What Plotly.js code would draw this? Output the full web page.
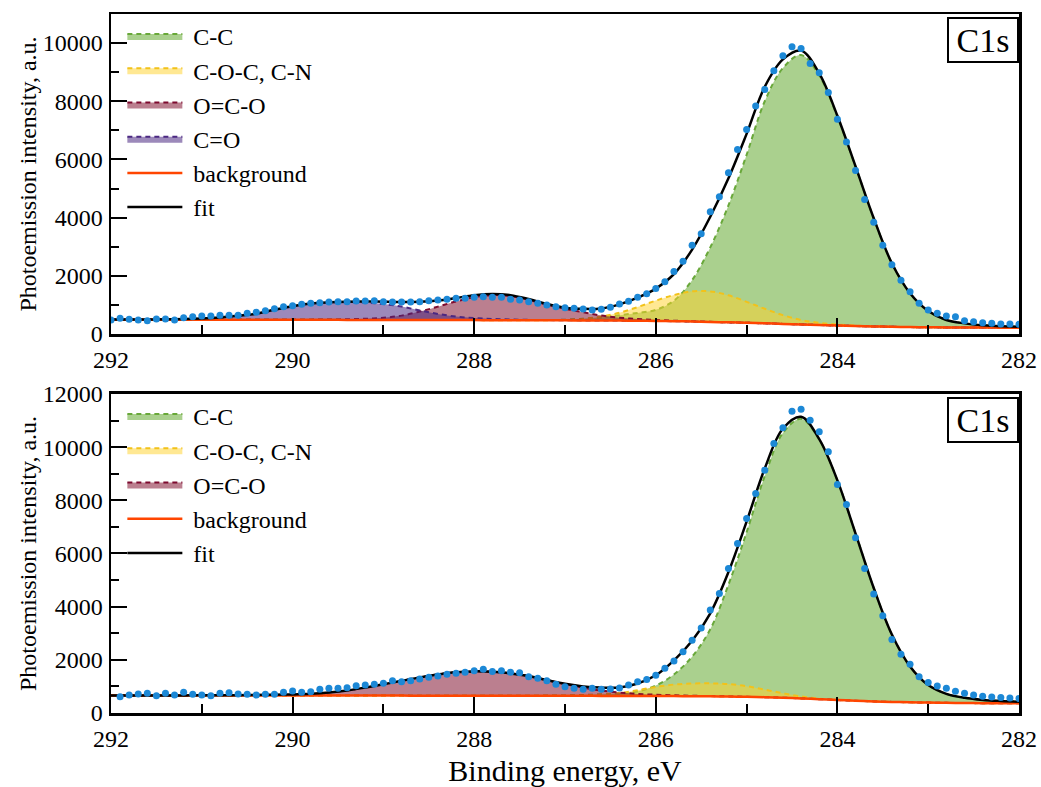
<!DOCTYPE html>
<html><head><meta charset="utf-8">
<script src="https://cdn.plot.ly/plotly-3.0.1.min.js"></script>
<style>html,body{margin:0;padding:0;background:#fff}#chart{width:1041px;height:787px}</style>
</head><body><div id="chart"></div>
<script>
// ---- energy axes (eV) ----
const energyGrid = [292.0,291.8,291.6,291.4,291.2,291.0,290.8,290.6,290.4,290.2,
  290.0,289.8,289.6,289.4,289.2,289.0,288.8,288.6,288.4,288.2,
  288.0,287.8,287.6,287.4,287.2,287.0,286.8,286.6,286.4,286.2,
  286.0,285.8,285.6,285.4,285.2,285.0,284.8,284.6,284.4,284.2,
  284.0,283.8,283.6,283.4,283.2,283.0,282.8,282.6,282.4,282.2,282.0];
const energyData = [292.0,291.9,291.8,291.7,291.6,291.5,291.4,291.3,291.2,291.1,
  291.0,290.9,290.8,290.7,290.6,290.5,290.4,290.3,290.2,290.1,
  290.0,289.9,289.8,289.7,289.6,289.5,289.4,289.3,289.2,289.1,
  289.0,288.9,288.8,288.7,288.6,288.5,288.4,288.3,288.2,288.1,
  288.0,287.9,287.8,287.7,287.6,287.5,287.4,287.3,287.2,287.1,
  287.0,286.9,286.8,286.7,286.6,286.5,286.4,286.3,286.2,286.1,
  286.0,285.9,285.8,285.7,285.6,285.5,285.4,285.3,285.2,285.1,
  285.0,284.9,284.8,284.7,284.6,284.5,284.4,284.3,284.2,284.1,
  284.0,283.9,283.8,283.7,283.6,283.5,283.4,283.3,283.2,283.1,
  283.0,282.9,282.8,282.7,282.6,282.5,282.4,282.3,282.2,282.1,282.0];
const energyDataBottom = [291.9,291.8,291.7,291.6,291.5,291.4,291.3,291.2,291.1,
  291.0,290.9,290.8,290.7,290.6,290.5,290.4,290.3,290.2,290.1,
  290.0,289.9,289.8,289.7,289.6,289.5,289.4,289.3,289.2,289.1,
  289.0,288.9,288.8,288.7,288.6,288.5,288.4,288.3,288.2,288.1,
  288.0,287.9,287.8,287.7,287.6,287.5,287.4,287.3,287.2,287.1,
  287.0,286.9,286.8,286.7,286.6,286.5,286.4,286.3,286.2,286.1,
  286.0,285.9,285.8,285.7,285.6,285.5,285.4,285.3,285.2,285.1,
  285.0,284.9,284.8,284.7,284.6,284.5,284.4,284.3,284.2,284.1,
  284.0,283.9,283.8,283.7,283.6,283.5,283.4,283.3,283.2,283.1,
  283.0,282.9,282.8,282.7,282.6,282.5,282.4,282.3,282.2,282.1,282.0];

// ---- top panel ----
const bgTop = [490,490,490,490,490,490,489,489,488,488, 487,486,486,485,484,483,482,481,480,479,
  478,476,475,473,471,469,467,464,460,455, 448,440,428,414,400,386,366,348,330,308,
  290,274,260,248,238,231,226,223,221,219, 218];
const ccTop = [490,490,490,490,490,490,489,489,488,488, 487,486,486,485,484,484,483,482,481,480,
  480,479,478,478,481,490,520,570,645,725, 830,1145,1852,2977,4420,6160,8000,9140,9590,8885,
  7465,5745,3975,2430,1398,788,478,363,298,263, 251];
const cocTop = [490,490,490,490,490,490,489,489,488,488, 487,486,486,485,484,483,482,481,480,479,
  478,476,475,473,476,484,517,599,730,925, 1148,1340,1468,1464,1330,1106,866,648,480,383,
  325,289,265,248,238,231,226,223,221,219, 218];
const ocoTop = [490,490,490,490,490,490,489,489,488,488, 492,494,498,507,524,558,632,771,940,1119,
  1268,1336,1305,1173,1011,869,747,634,560,515, 483,458,437,418,400,386,366,348,330,308,
  290,274,260,248,238,231,226,223,221,219, 218];
const coTop = [495,497,500,506,515,535,569,624,698,828, 947,1036,1076,1090,1079,1028,942,811,690,599,
  548,518,500,487,479,473,467,464,460,455, 448,440,428,414,400,386,366,348,330,308,
  290,274,260,248,238,231,226,223,221,219, 218];
const fitTop = [495,497,500,506,515,535,570,625,700,832, 955,1045,1088,1112,1120,1108,1100,1108,1150,1238,
  1335,1375,1335,1200,1035,905,865,880,1020,1250, 1560,2060,2900,4030,5350,6880,8500,9440,9740,8960,
  7500,5760,3980,2430,1400,790,480,365,300,265, 252];
const dataTop = [481,539,505,481,458,515,515,481,561,596,
  619,619,642,642,642,711,745,802,871,940,
  974,1020,1054,1077,1100,1111,1111,1134,1134,1145,
  1111,1100,1100,1100,1111,1145,1168,1191,1226,1226,
  1260,1283,1260,1260,1191,1168,1111,1054,997,940,
  905,882,859,825,848,916,1031,1130,1260,1380,
  1560,1800,2150,2500,3050,3450,4200,4719,5544,6346,
  7033,7835,8408,9049,9565,9874,9817,9302,8980,8300,
  7380,6600,5620,4620,3840,3050,2380,1850,1450,1054,
  825,710,619,596,458,424,390,367,344,344, 332];

// ---- bottom panel ----
const bgBot = [655,655,655,655,655,655,655,655,655,655, 655,655,655,655,655,654,654,653,653,652,
  651,650,649,648,647,646,645,644,643,641, 639,636,632,627,620,610,595,575,550,520,
  489,460,437,418,403,391,381,374,369,365, 363];
const ccBot = [655,655,655,655,655,655,655,655,655,655, 655,655,655,655,655,654,654,653,653,652,
  651,650,650,652,655,661,680,699,728,813, 1031,1450,2120,3150,4825,6800,8915,10535,11065,10280,
  8744,6748,4699,2950,1750,1050,720,570,490,451, 426];
const cocBot = [655,655,655,655,655,655,655,655,655,655, 655,655,655,655,655,654,654,653,653,652,
  651,650,649,648,647,651,660,700,750,860, 980,1070,1110,1115,1090,1010,880,740,625,540,
  495,462,438,418,403,391,381,374,369,365, 363];
const ocoBot = [655,655,656,657,658,660,665,671,677,687, 700,725,775,850,960,1080,1210,1340,1450,1530,
  1565,1550,1490,1390,1240,1086,950,844,768,719, 687,666,650,637,625,610,595,575,550,520,
  489,460,437,418,403,391,381,374,369,365, 363];
const fitBot = [656,657,658,660,662,665,668,672,678,688, 700,725,775,850,960,1080,1210,1340,1450,1530,
  1565,1550,1490,1390,1240,1100,1000,955,960,1110, 1420,1980,2720,3750,5300,7200,9200,10700,11140,10300,
  8750,6750,4700,2950,1750,1050,720,570,490,451, 426];
const dataBot = [614,677,714,739,651,739,677,777,702,677,
  651,739,764,714,702,677,702,702,777,827,
  777,802,890,927,927,952,1027,1053,1078,1115,
  1216,1178,1210,1278,1341,1391,1454,1491,1529,1591,
  1642,1560,1591,1529,1516,1366,1303,1216,1078,990,
  927,890,927,890,902,940,1050,1178,1260,1420,
  1679,1960,2306,2740,3200,3872,4499,5439,6378,7318,
  8258,9135,10138,10727,11353,11429,11015,10576,9824,8596,
  7845,6592,5439,4474,3659,2769,2206,1830,1366,1150,
  1020,927,820,740,680,630,600,580,560,545];

const componentNames = ['C-C', 'C-O-C, C-N', 'O=C-O', 'C=O'];
const tickLabelsX = ['292','290','288','286','284','282'];

// ---- styling ----
const FONT = 'Liberation Serif, Times New Roman, serif';
const styles = {
  'C-C':        {line:'#69a83a', fill:'rgba(100,170,50,0.55)'},
  'C-O-C, C-N': {line:'#f2c21a', fill:'rgba(255,210,40,0.5)'},
  'O=C-O':      {line:'#7d0a2e', fill:'rgba(125,10,40,0.52)'},
  'C=O':        {line:'#4b2882', fill:'rgba(75,40,130,0.55)'}
};
const PAD = '\u00a0';

function bgCopy(y, xa, ya) {
  return {x: energyGrid, y: y, xaxis: xa, yaxis: ya, mode: 'lines',
    line: {width: 0, shape: 'spline'}, showlegend: false, hoverinfo: 'skip'};
}
function compTrace(name, y, xa, ya, leg) {
  return {x: energyGrid, y: y, xaxis: xa, yaxis: ya, name: PAD + name, legend: leg, mode: 'lines',
    fill: 'tonexty', fillcolor: styles[name].fill,
    line: {color: styles[name].line, width: 2, dash: '5px,4px', shape: 'spline'}, hoverinfo: 'skip'};
}
function panelTraces(comps, bg, fit, dataE, dataI, xa, ya, leg) {
  const t = [];
  comps.forEach(c => { t.push(bgCopy(bg, xa, ya)); t.push(compTrace(c.name, c.y, xa, ya, leg)); });
  t.push({x: energyGrid, y: bg, xaxis: xa, yaxis: ya, name: PAD + 'background', legend: leg, mode: 'lines',
    line: {color: '#ff4500', width: 2.5, shape: 'spline'}});
  t.push({x: energyGrid, y: fit, xaxis: xa, yaxis: ya, name: PAD + 'fit', legend: leg, mode: 'lines',
    line: {color: '#000', width: 2.5, shape: 'spline'}});
  t.push({x: dataE, y: dataI, xaxis: xa, yaxis: ya, mode: 'markers', showlegend: false,
    marker: {color: 'rgb(28,136,214)', size: 7}});
  return t;
}

const traces = [].concat(
  panelTraces([{name: componentNames[0], y: ccTop}, {name: componentNames[1], y: cocTop},
               {name: componentNames[2], y: ocoTop}, {name: componentNames[3], y: coTop}],
              bgTop, fitTop, energyData, dataTop, 'x', 'y', 'legend'),
  panelTraces([{name: componentNames[0], y: ccBot}, {name: componentNames[1], y: cocBot},
               {name: componentNames[2], y: ocoBot}],
              bgBot, fitBot, energyDataBottom, dataBot, 'x2', 'y2', 'legend2')
);

const tickFont = {family: FONT, size: 24, color: '#000'};
function xAxis(anchor, withTitle) {
  const a = {anchor: anchor, domain: [0, 1], range: [292, 282], tickvals: tickLabelsX.map(Number), ticktext: tickLabelsX,
    ticks: 'inside', ticklen: 16, tickwidth: 2, tickcolor: '#000',
    minor: {dtick: 1, ticks: 'inside', ticklen: 9, tickwidth: 2, tickcolor: '#000'},
    showline: true, linewidth: 2.5, linecolor: '#000', mirror: true, showgrid: false, zeroline: false,
    tickfont: tickFont, ticklabelstandoff: 3};
  if (withTitle) a.title = {text: 'Binding energy, eV', font: {family: FONT, size: 30, color: '#000'}, standoff: 12};
  return a;
}
function yAxis(anchor, domain, range) {
  return {anchor: anchor, domain: domain, range: range, dtick: 2000, tick0: 0,
    exponentformat: 'none', separatethousands: false, tickformat: 'd',
    ticks: 'inside', ticklen: 16, tickwidth: 2, tickcolor: '#000',
    minor: {dtick: 1000, ticks: 'inside', ticklen: 8, tickwidth: 2, tickcolor: '#000'},
    showline: true, linewidth: 2.5, linecolor: '#000', mirror: true, showgrid: false, zeroline: false,
    tickfont: tickFont, ticklabelstandoff: 1,
    title: {text: 'Photoemission intensity, a.u.', font: {family: FONT, size: 24, color: '#000'}}};
}
const legendBase = {xanchor: 'left', yanchor: 'top', bgcolor: 'rgba(0,0,0,0)', borderwidth: 0,
  font: {family: FONT, size: 24, color: '#000'}, itemwidth: 55, traceorder: 'normal'};
const topDom = [0.5422, 1], botDom = [0, 0.4564];
const boxStyle = {xref: 'paper', yref: 'paper', x: 1, xanchor: 'right', yanchor: 'top', text: 'C1s', showarrow: false,
  font: {family: FONT, size: 34, color: '#000'}, bordercolor: '#000', borderwidth: 2, borderpad: 1,
  bgcolor: '#fff', width: 66, height: 40, yshift: -3};

const layout = {
  width: 1041, height: 787, margin: {l: 111, r: 22, t: 14, b: 74},
  paper_bgcolor: '#fff', plot_bgcolor: '#fff', font: {family: FONT, color: '#000'},
  showlegend: true,
  xaxis: xAxis('y', false), yaxis: yAxis('x', topDom, [0, 11000]),
  xaxis2: xAxis('y2', true), yaxis2: yAxis('x2', botDom, [0, 12000]),
  legend: Object.assign({}, legendBase, {x: 0.0125, y: 1}),
  legend2: Object.assign({}, legendBase, {x: 0.0125, y: botDom[1]}),
  annotations: [Object.assign({}, boxStyle, {y: 1}), Object.assign({}, boxStyle, {y: botDom[1]})]
};

Plotly.newPlot('chart', traces, layout, {displayModeBar: false, staticPlot: true});
</script>
</body></html>
